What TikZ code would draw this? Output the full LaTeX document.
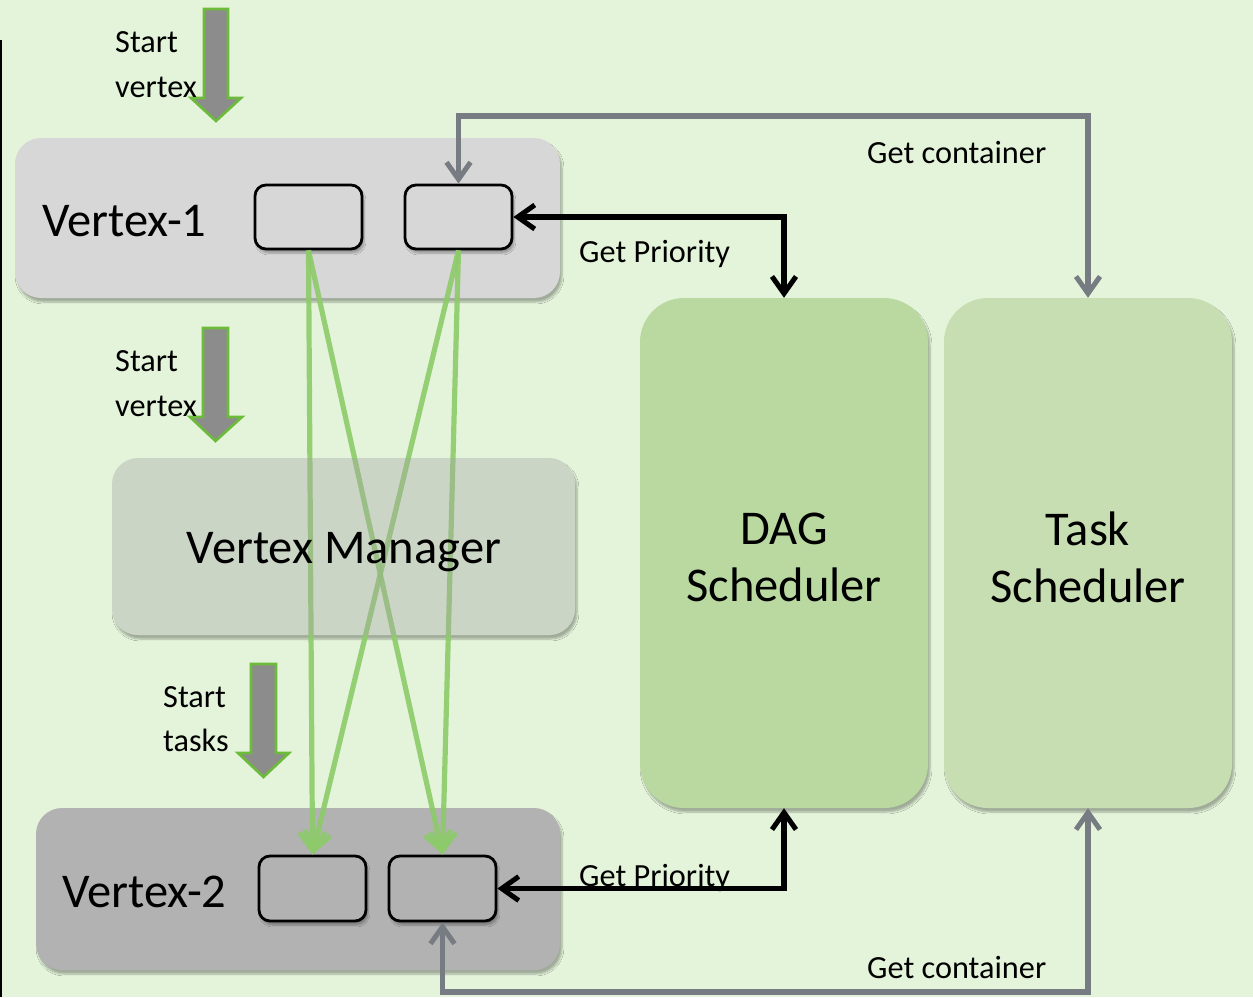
\documentclass[tikz,border=0pt]{standalone}
\usepackage{fontspec}
\setmainfont{Carlito}
\usetikzlibrary{arrows.meta,shadows.blur}

\definecolor{bgcol}{HTML}{E4F4DA}
\definecolor{vonecol}{HTML}{D7D7D7}
\definecolor{vtwocol}{HTML}{B2B2B2}
\definecolor{vmcol}{HTML}{A4A4A4}
\definecolor{dagcol}{HTML}{B9D9A0}
\definecolor{taskcol}{HTML}{C6DEB1}
\definecolor{linkgrey}{HTML}{767C81}
\definecolor{flowgreen}{HTML}{8DCB6A}
\definecolor{edgegreen}{HTML}{6DBB3B}
\definecolor{arrowfill}{HTML}{8C8C8C}

\tikzset{
  x=1pt, y=-1pt,
  barbtip/.tip={Straight Barb[length=17pt,width=24pt,line width=5pt]},
  greentip/.tip={Straight Barb[length=18pt,width=26pt,line width=5pt]},
  softshadow/.style={blur shadow={shadow xshift=2pt, shadow yshift=-4pt,
      shadow blur steps=6, shadow opacity=30}},
  panel/.style={draw=none, rounded corners=26pt, inner sep=0pt, softshadow},
  slot/.style={draw=black, line width=2.8pt, rounded corners=11pt,
      minimum width=107pt, minimum height=64pt, inner sep=0pt, softshadow},
  bigtext/.style={font=\fontsize{48.5}{57}\selectfont},
  smalltext/.style={font=\fontsize{32.3}{40}\selectfont, inner sep=0pt},
  greylink/.style={draw=linkgrey, line width=5.2pt, barbtip-barbtip},
  blacklink/.style={draw=black, line width=5.2pt, barbtip-barbtip},
  greenlink/.style={draw=flowgreen, line width=5.2pt, draw opacity=0.9, -greentip},
  blockarrow/.style={fill=arrowfill, draw=edgegreen, line width=2.6pt, line join=miter},
  vmshape/.style={draw=none, rounded corners=26pt, inner sep=0pt,
      minimum width=463pt, minimum height=177pt},
}

\begin{document}
\begin{tikzpicture}
  % canvas
  \fill[bgcol] (0,0) rectangle (1253,997);
  \useasboundingbox (0,0) rectangle (1253,997);
  \draw[black, line width=2pt] (1,40) -- (1,997);

  % vertex panels and schedulers
  \node[panel, fill=vonecol, minimum width=545pt, minimum height=160pt] (v1) at (287.5,218) {};
  \node[panel, fill=vtwocol, minimum width=524pt, minimum height=162pt] (v2) at (298,889) {};
  \node[panel, fill=dagcol, rounded corners=44pt, minimum width=288pt, minimum height=510pt] (dag) at (784,553) {};
  \node[panel, fill=taskcol, rounded corners=44pt, minimum width=288pt, minimum height=510pt] (ts) at (1088,553) {};
  \node[bigtext, align=center] (daglbl) at (784,557) {DAG\\Scheduler};
  \node[bigtext, align=center] (tslbl) at (1088,557) {Task\\Scheduler};

  \node[bigtext, anchor=base west, inner sep=0pt] (v1lbl) at (42,236) {Vertex-1};
  \node[bigtext, anchor=base west, inner sep=0pt] (v2lbl) at (62,907) {Vertex-2};

  % vertex manager base: background-coloured, carries the shadow
  \node[vmshape, fill=bgcol, softshadow] (vmbase) at (343.5,546.5) {};

  % task slots
  \node[slot, fill=vonecol] (a) at (308.5,217) {};
  \node[slot, fill=vonecol] (b) at (458.5,217) {};
  \node[slot, fill=vtwocol, minimum height=65pt] (c) at (312.5,888.5) {};
  \node[slot, fill=vtwocol, minimum height=65pt] (d) at (442.5,888.5) {};

  % data movement between the two vertices
  \draw[greenlink] (a.south) -- (c.north);
  \draw[greenlink] (a.south) -- (d.north);
  \draw[greenlink] (b.south) -- (c.north);
  \draw[greenlink] (b.south) -- (d.north);

  % vertex manager: translucent, sits over the links
  \node[vmshape, fill=vmcol, fill opacity=0.375] (vm) at (343.5,546.5) {};
  \node[bigtext, anchor=base, inner sep=0pt] (vmlbl) at (344,563) {Vertex Manager};

  % container requests
  \coordinate (gtop) at (1088,116);
  \coordinate (gbot) at (1088,992);
  \draw[greylink] (b.north) |- (gtop) -- (ts.north);
  \draw[greylink] (d.south) |- (gbot) -- (ts.south);

  % priority requests
  \draw[blacklink] (b.east) -| (dag.north);
  \draw[blacklink] (d.east) -| (dag.south);

  % start arrows
  \draw[blockarrow] (204,9) -- (228,9) -- (228,98) -- (241,98) -- (216,121)
        -- (191,98) -- (204,98) -- cycle;
  \draw[blockarrow] (203,328) -- (228,328) -- (228,417) -- (242,417) -- (215.5,441)
        -- (190,417) -- (203,417) -- cycle;
  \draw[blockarrow] (251,664) -- (276,664) -- (276,753) -- (289,753) -- (263.5,777)
        -- (238,753) -- (251,753) -- cycle;

  % labels
  \node[smalltext, anchor=base west] (s1a) at (115,52) {Start};
  \node[smalltext, anchor=base west] (s1b) at (115,97) {vertex};
  \node[smalltext, anchor=base west] (s2a) at (115,371) {Start};
  \node[smalltext, anchor=base west] (s2b) at (115,416) {vertex};
  \node[smalltext, anchor=base west] (s3a) at (163,707) {Start};
  \node[smalltext, anchor=base west] (s3b) at (163,751) {tasks};

  \node[smalltext, anchor=base west] (gc1) at (867,163) {Get container};
  \node[smalltext, anchor=base west] (gp1) at (579,262) {Get Priority};
  \node[smalltext, anchor=base west] (gp2) at (579,886) {Get Priority};
  \node[smalltext, anchor=base west] (gc2) at (867,978) {Get container};
\end{tikzpicture}
\end{document}
